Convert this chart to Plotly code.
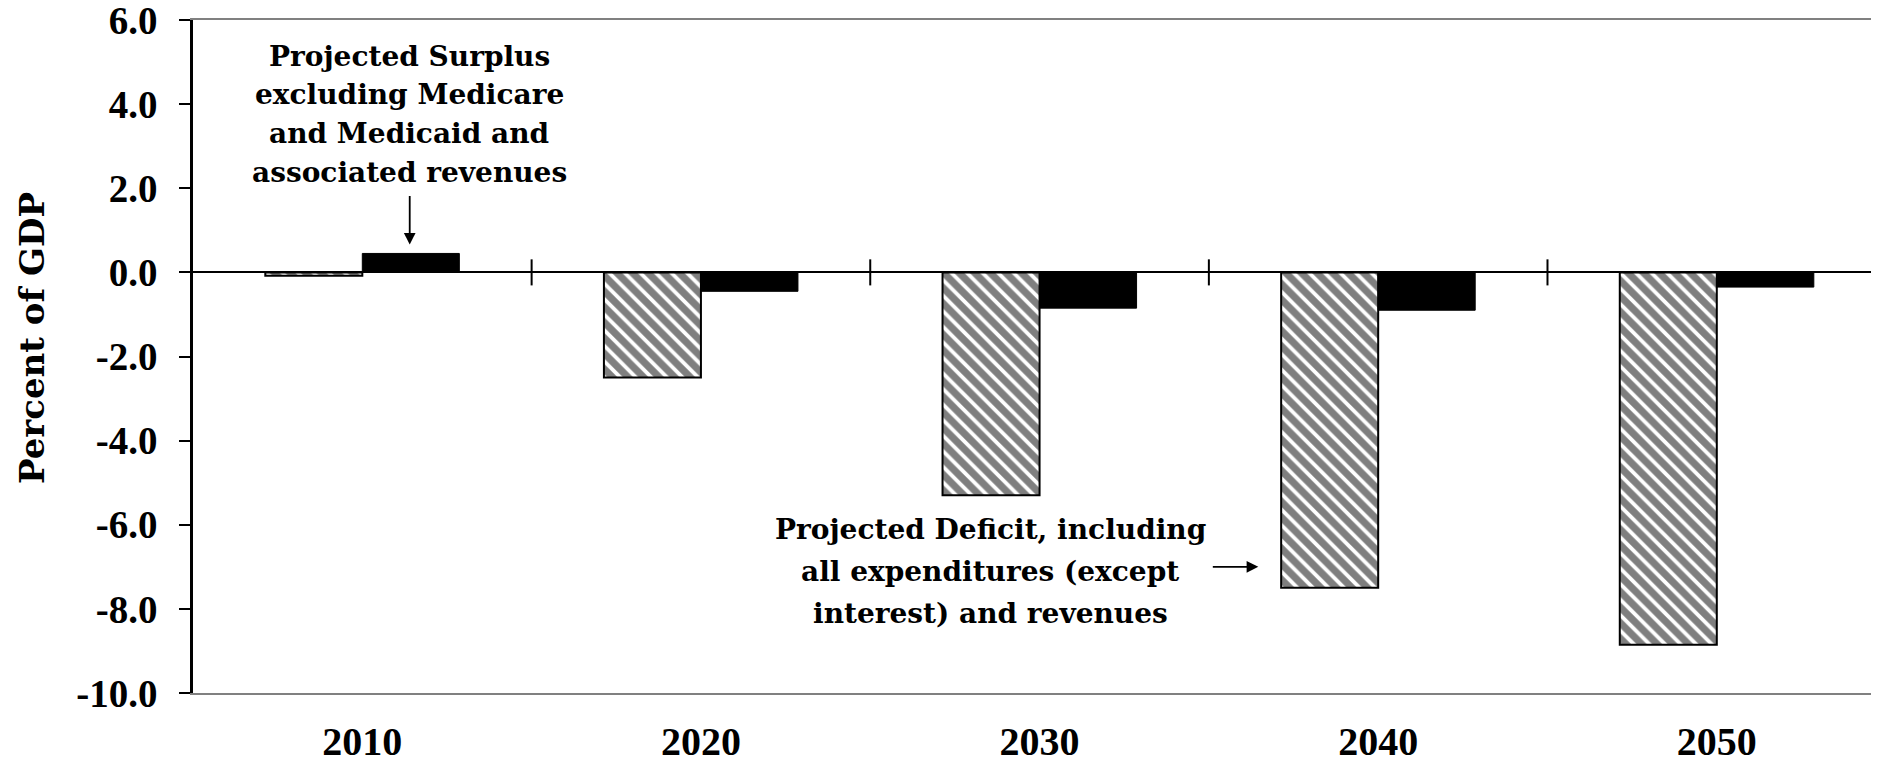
import plotly.graph_objects as go

# ---- data ----
years = ["2010", "2020", "2030", "2040", "2050"]
deficit_all = [-0.08, -2.5, -5.3, -7.5, -8.85]          # hatched bars
surplus_excl = [0.45, -0.45, -0.85, -0.9, -0.35]        # black bars
y_tickvals = [-10, -8, -6, -4, -2, 0, 2, 4, 6]
y_ticktext = ["-10.0", "-8.0", "-6.0", "-4.0", "-2.0", "0.0", "2.0", "4.0", "6.0"]
surplus_lines = ["Projected Surplus", "excluding Medicare", "and Medicaid and", "associated revenues"]
deficit_lines = ["Projected Deficit, including", "all expenditures (except", "interest) and revenues"]
y_title = "Percent of GDP"

# page offset of the plot div (body margin)
OFF = 8
W, H = 1879 - OFF, 768 - OFF
PLOT_L, PLOT_T, PLOT_B = 193, 20, 693          # target page pixels
ML, MR, MT, MB = PLOT_L - OFF, 0, PLOT_T - OFF, 768 - PLOT_B
plot_h = PLOT_B - PLOT_T
plot_w = 1879 - PLOT_L
NUM_FONT = "Liberation Serif"
TXT_FONT = "DejaVu Serif"

fig = go.Figure()
fig.add_trace(go.Bar(
    x=list(range(len(years))), y=deficit_all, name="Deficit",
    marker=dict(color="white", line=dict(color="black", width=2),
                pattern=dict(shape="\\", fgcolor="black", bgcolor="white",
                             size=11, solidity=0.65)),
))
fig.add_trace(go.Bar(
    x=list(range(len(years))), y=surplus_excl, name="Surplus",
    marker=dict(color="black", line=dict(color="black", width=1)),
))

# tick crossings on the zero line between categories
for i in range(len(years) - 1):
    fig.add_shape(type="line", xref="x", yref="y", x0=i + 0.5, x1=i + 0.5,
                  y0=-0.31, y1=0.31, line=dict(color="black", width=2))

def paper_y(py):
    return (PLOT_B - py) / plot_h

# surplus text
surplus_x = 0.138
for k, t in enumerate(surplus_lines):
    fig.add_annotation(text="<b>%s</b>" % t, xref="x", yref="paper", x=surplus_x,
                       y=paper_y(56 + 38.8 * k), showarrow=False, xanchor="center",
                       yanchor="middle", font=dict(family=TXT_FONT, size=28, color="black"))
fig.add_annotation(text="", xref="x", yref="y", x=0.14, y=0.66, ax=0, ay=-50,
                   showarrow=True, arrowhead=2, arrowsize=1.3, arrowwidth=1.8,
                   arrowcolor="black", standoff=0)

# deficit text
deficit_x = 1.854
for k, t in enumerate(deficit_lines):
    fig.add_annotation(text="<b>%s</b>" % t, xref="x", yref="paper", x=deficit_x,
                       y=paper_y(529 + 42 * k), showarrow=False, xanchor="center",
                       yanchor="middle", font=dict(family=TXT_FONT, size=28, color="black"))
fig.add_annotation(text="", xref="x", yref="y", x=2.646, y=-7.0, ax=-47, ay=0,
                   showarrow=True, arrowhead=2, arrowsize=1.3, arrowwidth=1.8,
                   arrowcolor="black", standoff=0)

# y title
fig.add_annotation(text="<b>%s</b>" % y_title, xref="paper", yref="paper",
                   x=(32 - PLOT_L) / plot_w, y=paper_y(338), textangle=-90,
                   showarrow=False, xanchor="center", yanchor="middle",
                   font=dict(family=TXT_FONT, size=34, color="black"))

fig.update_layout(
    width=W, height=H,
    margin=dict(l=ML, r=MR, t=MT, b=MB, pad=0, autoexpand=False),
    paper_bgcolor="white", plot_bgcolor="white",
    barmode="group", bargap=0.427, bargroupgap=0,
    showlegend=False,
    font=dict(family=NUM_FONT, color="black"),
)
fig.update_xaxes(
    range=[-0.5, 4.479], tickmode="array", tickvals=list(range(len(years))),
    ticktext=["<b>%s</b>" % y for y in years], showgrid=False, zeroline=False,
    showline=True, mirror=True, linecolor="#808080", linewidth=1.5, ticks="",
    ticklabelstandoff=12, ticklabeloverflow="allow", automargin=False,
    tickfont=dict(family=NUM_FONT, size=40, color="black"),
)
fig.update_yaxes(
    range=[-10, 6], tickmode="array", tickvals=y_tickvals,
    ticktext=["<b>%s</b>" % t for t in y_ticktext], showgrid=False,
    zeroline=True, zerolinecolor="black", zerolinewidth=2,
    showline=True, linecolor="black", linewidth=2.5, ticks="outside",
    ticklen=11, tickwidth=2, tickcolor="black", ticklabelstandoff=14,
    ticklabeloverflow="allow", automargin=False,
    tickfont=dict(family=NUM_FONT, size=39, color="black"),
)

fig.write_html("out.html")
